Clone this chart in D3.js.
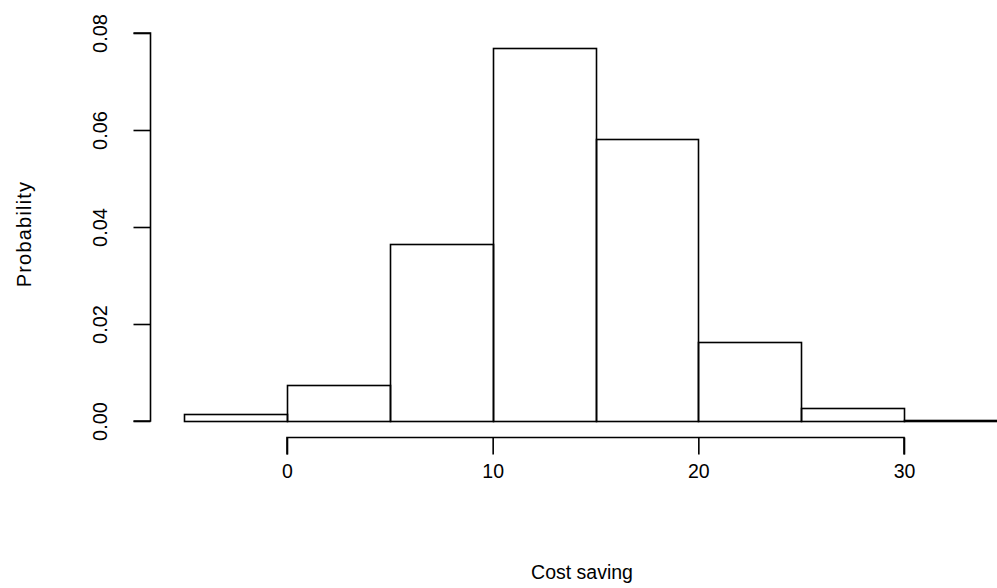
<!DOCTYPE html>
<html>
<head>
<meta charset="utf-8">
<script src="https://cdn.jsdelivr.net/npm/d3@7"></script>
<style>
  body { margin: 0; background: #fff; }
  svg { display: block; }
  text { font-family: "Liberation Sans", Arial, sans-serif; fill: #000; }
</style>
</head>
<body>
<div id="chart"></div>
<script>
// histogram bins (width 5) and densities
const binStarts = [-5, 0, 5, 10, 15, 20, 25, 30];
const binWidth = 5;
const density = [0.0015, 0.0075, 0.0364, 0.0769, 0.0581, 0.0163, 0.0026, 0.0003];
const xTicks = [0, 10, 20, 30];
const yTicks = [0, 0.02, 0.04, 0.06, 0.08];

const width = 997;
const height = 588;

const svg = d3.select("#chart")
  .append("svg")
  .attr("width", width)
  .attr("height", height);

const x = d3.scaleLinear().domain([0, 30]).range([287, 904]);
const y = d3.scaleLinear().domain([0, 0.08]).range([421, 33]);

// bars
svg.append("g")
  .selectAll("rect")
  .data(binStarts.map((s, i) => ({ x0: s, x1: s + binWidth, d: density[i] })))
  .join("rect")
  .attr("x", d => Math.round(x(d.x0)) + 0.5)
  .attr("y", d => Math.round(y(d.d)) + 0.5)
  .attr("width", d => Math.round(x(d.x1)) - Math.round(x(d.x0)))
  .attr("height", d => Math.round(y(0)) - Math.round(y(d.d)))
  .attr("fill", "none")
  .attr("stroke", "#000")
  .attr("stroke-width", 1.6);

// x axis (R style: line spans first to last tick)
const xAxis = svg.append("g")
  .attr("transform", "translate(0,437.5)")
  .call(d3.axisBottom(x).tickValues(xTicks).tickSize(17).tickPadding(10).tickFormat(d3.format("d")));
xAxis.select(".domain").attr("d", `M${x(0)},17V0H${x(30)}V17`).attr("stroke-width", 1.6);
xAxis.selectAll(".tick line").attr("stroke-width", 1.6);
xAxis.selectAll("text")
  .attr("y", 40).attr("dy", null)
  .style("font-size", "19.5px");

// y axis
const yAxis = svg.append("g")
  .attr("transform", "translate(150.5,0)")
  .call(d3.axisLeft(y).tickValues(yTicks).tickSize(17).tickFormat(d3.format(".2f")));
yAxis.select(".domain").attr("d", `M-17,${y(0.08)}H0V${y(0)}H-17`).attr("stroke-width", 1.6);
yAxis.selectAll(".tick line").attr("stroke-width", 1.6);
yAxis.selectAll("text")
  .attr("x", null).attr("dy", null)
  .attr("text-anchor", "middle")
  .attr("transform", "translate(-44,0) rotate(-90)")
  .style("font-size", "20px");

// axis titles
svg.append("text")
  .attr("x", 582)
  .attr("y", 579)
  .attr("text-anchor", "middle")
  .style("font-size", "19.5px")
  .text("Cost saving");

svg.append("text")
  .attr("transform", "translate(31,234) rotate(-90)")
  .attr("text-anchor", "middle")
  .style("font-size", "20px")
  .style("letter-spacing", "1.2px")
  .text("Probability");
</script>
</body>
</html>
